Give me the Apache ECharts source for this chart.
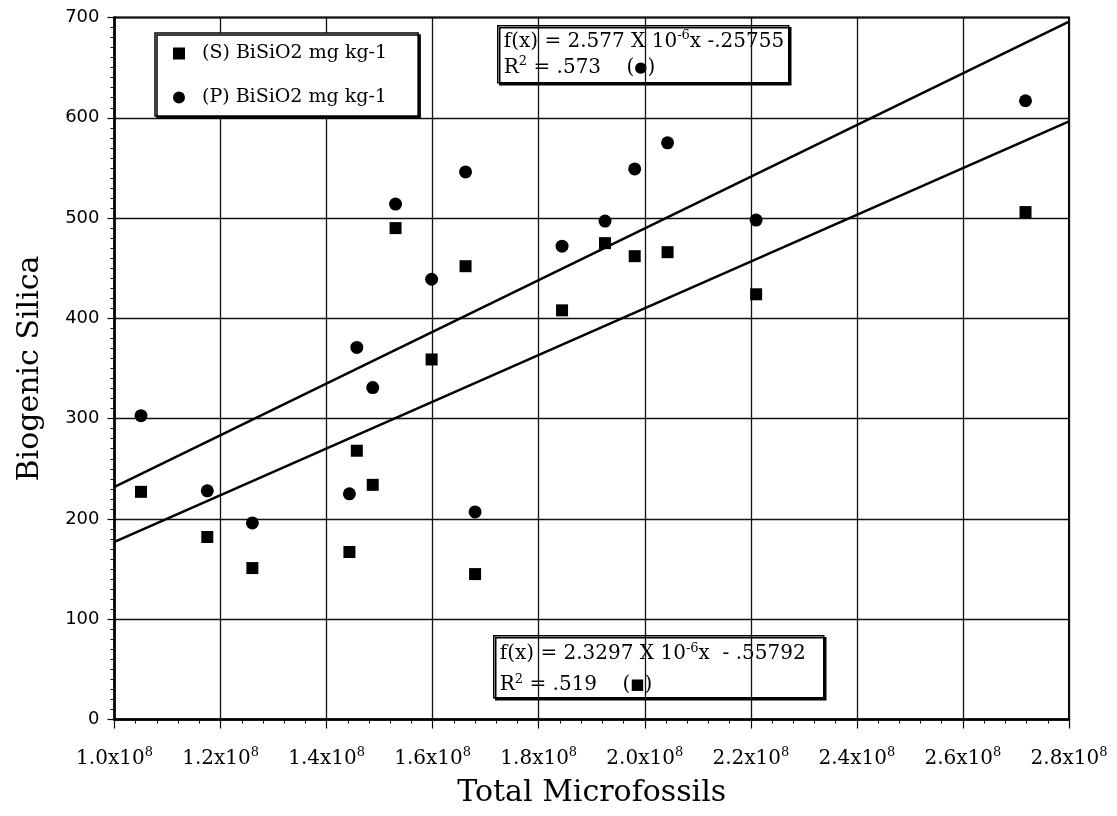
<!DOCTYPE html>
<html>
<head>
<meta charset="utf-8">
<script src="https://cdn.jsdelivr.net/npm/echarts@6/dist/echarts.min.js"></script>
<style>
  html, body { margin: 0; padding: 0; background: #fff; }
  #chart { width: 1117px; height: 816px; }
</style>
</head>
<body>
<div id="chart"></div>
<script>
// Total microfossils per sample and the matching biogenic silica (mg kg-1)
const microfossils = [1.05e8, 1.175e8, 1.26e8, 1.443e8, 1.457e8, 1.487e8, 1.53e8, 1.598e8,
                      1.662e8, 1.68e8, 1.844e8, 1.925e8, 1.981e8, 2.043e8, 2.21e8, 2.718e8];
const silicaS = [227, 182, 151, 167, 268, 234, 490, 359, 452, 145, 408, 475, 462, 466, 424, 506];
const silicaP = [303, 228, 196, 225, 371, 331, 514, 439, 546, 207, 472, 497, 549, 575, 498, 617];

// Linear fits: f(x) = slope * x + intercept
const fitP = { slope: 2.577e-6, intercept: -25.755 };
const fitS = { slope: 2.3297e-6, intercept: -55.792 };

const seriesNames = ['(S) BiSiO2 mg kg-1', '(P) BiSiO2 mg kg-1'];
const xRange = [1.0e8, 2.8e8];
const yRange = [0, 700];

const pairs = (xs, ys) => xs.map((x, i) => [x, ys[i]]);
const fitLine = f => xRange.map(x => [x, f.slope * x + f.intercept]);

const serif = 'DejaVu Serif';
const chart = echarts.init(document.getElementById('chart'), null, { renderer: 'canvas' });

// Boxed fit equation drawn on top of the plot
const boxText = (x, y, w, h, lineH, text) => ({
  type: 'group',
  left: x, top: y,
  z: 20,
  children: [
    { type: 'rect', shape: { x: 0, y: 0, width: w, height: h },
      style: { fill: '#fff', stroke: '#000', lineWidth: 1.5,
               shadowColor: '#000', shadowOffsetX: 2, shadowOffsetY: 2, shadowBlur: 0 } },
    { type: 'text', x: 6, y: 3,
      style: {
        text: text,
        rich: {
          t: { fontFamily: serif, fontSize: 20, color: '#000', lineHeight: lineH },
          s: { fontFamily: serif, fontSize: 13, color: '#000', lineHeight: lineH, padding: [0, 0, 12, 0] },
          m: { fontFamily: serif, fontSize: 15, color: '#000', lineHeight: lineH }
        }
      } }
  ]
});

chart.setOption({
  animation: false,
  backgroundColor: '#fff',
  grid: {
    left: 114.5, right: 48, top: 17.5, bottom: 96.5,
    show: true, borderColor: '#000', borderWidth: 2
  },
  legend: {
    data: [
      { name: seriesNames[0], icon: 'rect' },
      { name: seriesNames[1], icon: 'circle' }
    ],
    orient: 'vertical',
    left: 155, top: 33,
    itemWidth: 12, itemHeight: 12, itemGap: 25,
    padding: [11, 31, 9, 18],
    backgroundColor: '#fff',
    borderColor: '#000', borderWidth: 1.5,
    shadowColor: '#000', shadowOffsetX: 2, shadowOffsetY: 2, shadowBlur: 0,
    textStyle: { fontFamily: serif, fontSize: 19, color: '#000', padding: [0, 0, 0, 12] }
  },
  xAxis: {
    type: 'value',
    min: xRange[0], max: xRange[1], interval: 2e7,
    name: 'Total Microfossils',
    nameLocation: 'middle', nameGap: 59,
    nameTextStyle: { fontFamily: serif, fontSize: 30, color: '#000' },
    axisLine: { show: true, onZero: false, lineStyle: { color: '#000', width: 2.5 } },
    axisTick: { show: true, length: 9, lineStyle: { color: '#000', width: 1.2 } },
    minorTick: { show: true, splitNumber: 5, length: 4, lineStyle: { color: '#000', width: 1 } },
    splitLine: { show: true, lineStyle: { color: '#111', width: 1.3 } },
    axisLabel: {
      margin: 27,
      formatter: v => '{a|' + (v / 1e8).toFixed(1) + 'x10}{b|8}',
      rich: {
        a: { fontFamily: serif, fontSize: 20, color: '#000' },
        b: { fontFamily: serif, fontSize: 13, color: '#000', padding: [0, 0, 11, 0] }
      }
    }
  },
  yAxis: {
    type: 'value',
    min: yRange[0], max: yRange[1], interval: 100,
    name: 'Biogenic Silica',
    nameLocation: 'middle', nameGap: 69, nameRotate: 90,
    nameTextStyle: { fontFamily: serif, fontSize: 30, color: '#000' },
    axisLine: { show: true, onZero: false, lineStyle: { color: '#000', width: 2.5 } },
    axisTick: { show: true, length: 7, lineStyle: { color: '#000', width: 1.2 } },
    minorTick: { show: true, splitNumber: 10, length: 4, lineStyle: { color: '#000', width: 1 } },
    splitLine: { show: true, lineStyle: { color: '#111', width: 1.3 } },
    axisLabel: { margin: 15, fontFamily: 'DejaVu Sans', fontSize: 18, color: '#000' }
  },
  series: [
    {
      name: 'fit P', type: 'line', showSymbol: false, silent: true, z: 3,
      lineStyle: { color: '#000', width: 2.5 }, data: fitLine(fitP)
    },
    {
      name: 'fit S', type: 'line', showSymbol: false, silent: true, z: 3,
      lineStyle: { color: '#000', width: 2.5 }, data: fitLine(fitS)
    },
    {
      name: seriesNames[0], type: 'scatter', symbol: 'rect', symbolSize: 12,
      itemStyle: { color: '#000', opacity: 1 }, z: 5,
      data: pairs(microfossils, silicaS)
    },
    {
      name: seriesNames[1], type: 'scatter', symbol: 'circle', symbolSize: 13,
      itemStyle: { color: '#000', opacity: 1 }, z: 5,
      data: pairs(microfossils, silicaP)
    }
  ],
  graphic: [
    boxText(497, 25, 291, 57, 26,
      '{t|f(x) = 2.577 X 10}{s|-6}{t|x -.25755}\n{t|R}{s|2}{t| = .573    (}{m|●}{t|)}'),
    boxText(493, 635, 330, 62, 31,
      '{t|f(x) = 2.3297 X 10}{s|-6}{t|x  - .55792}\n{t|R}{s|2}{t| = .519    (}{m|■}{t|)}')
  ]
});
</script>
</body>
</html>
